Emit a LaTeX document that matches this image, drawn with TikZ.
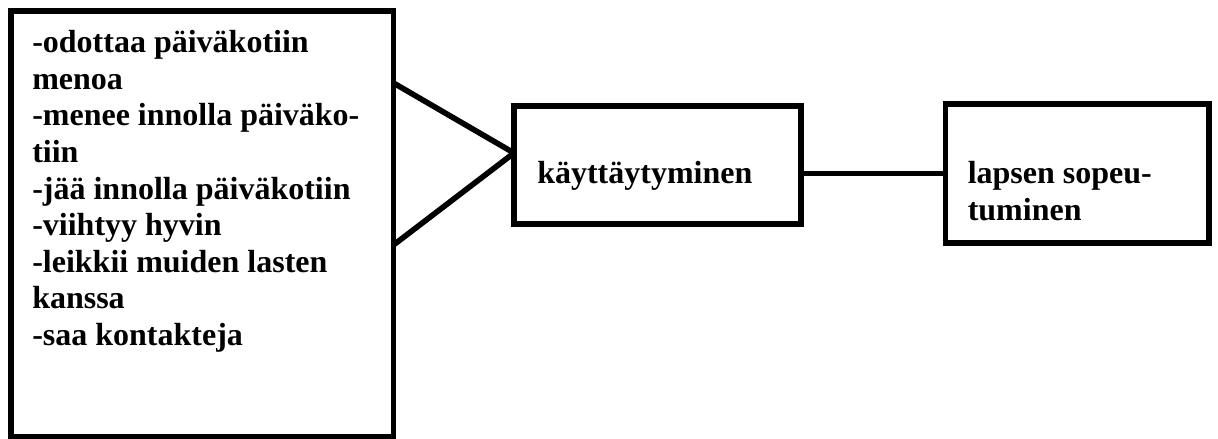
\documentclass[tikz,border=0pt]{standalone}
\usepackage{fontspec}
\setmainfont{Liberation Serif}
\usetikzlibrary{calc}
\tikzset{
  boxframe/.style={draw=black, line width=4.2pt, rectangle, inner sep=0pt, outer sep=0pt},
  boxtext/.style={font=\fontsize{24}{27.45}\selectfont\bfseries, align=left, inner sep=0pt, anchor=base west},
  link/.style={draw=black, line width=4.2pt}
}
\begin{document}
\begin{tikzpicture}[x=0.75pt,y=-0.75pt]
\useasboundingbox (0,0) rectangle (1218,439);
% boxes
\node[boxframe, minimum width=382.5*0.75pt, minimum height=425.5*0.75pt] (left) at (202.25,223.75) {};
\node[boxframe, minimum width=287*0.75pt, minimum height=118*0.75pt] (mid) at (657.5,164.7) {};
\node[boxframe, minimum width=263.5*0.75pt, minimum height=139.3*0.75pt] (right) at (1077.3,173.4) {};
% texts (base anchor = baseline of last line)
\node[boxtext] (lefttext) at (32,345.5) {-odottaa päiväkotiin\\menoa\\-menee innolla päiväko-\\tiin\\-jää innolla päiväkotiin\\-viihtyy hyvin\\-leikkii muiden lasten\\kanssa\\-saa kontakteja};
\node[boxtext] (midtext) at (537,183) {käyttäytyminen};
\node[boxtext] (righttext) at (967.5,220) {lapsen sopeu-\\tuminen};
% connectors
\coordinate (apex) at ($(mid.west)+(0,-11.7)$);
\draw[link] ($(left.north east)+(0,72)$) -- (apex);
\draw[link] ($(left.north east)+(0,234)$) -- (apex);
\draw[link] (right.west) -- (right.west -| mid.east);
\end{tikzpicture}
\end{document}
